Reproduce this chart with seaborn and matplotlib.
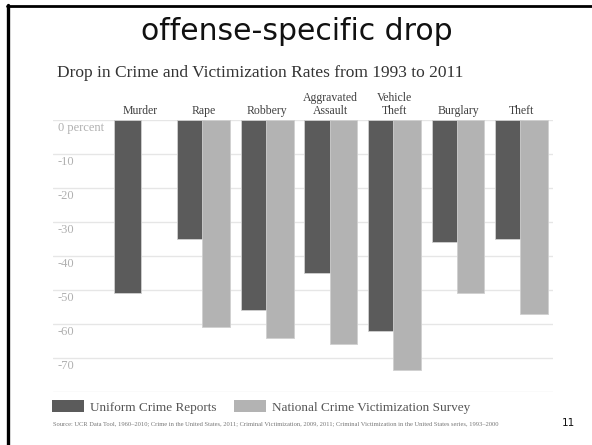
import matplotlib
matplotlib.use("Agg")
import matplotlib.pyplot as plt
import seaborn as sns
import pandas as pd
import numpy as np
from matplotlib.patches import Patch
from matplotlib.lines import Line2D

categories = ["Murder", "Rape", "Robbery", "Aggravated\nAssault", "Vehicle\nTheft", "Burglary", "Theft"]
ucr = [-51, -35, -56, -45, -62, -36, -35]
ncvs = [np.nan, -61, -64, -66, -73.5, -51, -57]
series = ["Uniform Crime Reports", "National Crime Victimization Survey"]
ytick_vals = [0, -10, -20, -30, -40, -50, -60, -70]
ytick_labels = ["0 percent", "-10", "-20", "-30", "-40", "-50", "-60", "-70"]

df = pd.DataFrame({
    "category": categories * 2,
    "series": [series[0]] * len(categories) + [series[1]] * len(categories),
    "value": ucr + ncvs,
})

W, H = 592, 445
fig = plt.figure(figsize=(W / 100, H / 100), dpi=100)
sns.set_style("white")
plt.rcParams["font.family"] = ["Liberation Serif", "DejaVu Serif"]

ax_left, ax_right, ax_top, ax_bot = 53, 553, 120, 392
ax = fig.add_axes([ax_left / W, 1 - ax_bot / H, (ax_right - ax_left) / W, (ax_bot - ax_top) / H])

dark, light = "#5b5b5b", "#b3b3b3"
sns.barplot(data=df, x="category", y="value", hue="series", order=categories,
            hue_order=series, palette=[dark, light], width=0.79, ax=ax,
            legend=False, linewidth=0.6, edgecolor="#d0d0d0", saturation=1)

# widen bars slightly so pairs touch/overlap as in the reference
for p in ax.patches:
    w = p.get_width()
    p.set_x(p.get_x() - 0.02)
    p.set_width(w + 0.04)

ax.set_xlim(-1.368, 6.494)
ax.set_ylim(-80, 0)
ax.set_yticks(list(range(0, -81, -10)))
ax.set_yticklabels([])
ax.tick_params(axis="y", length=0)
ax.yaxis.grid(True, color="#e6e6e6", linewidth=1.0)
ax.set_axisbelow(True)
for s in ax.spines.values():
    s.set_visible(False)
ax.set_xlabel("")
ax.set_ylabel("")

ax.xaxis.tick_top()
ax.tick_params(axis="x", length=0, pad=2.5, labelsize=8.5, labelcolor="#404040")
ax.set_xticks(range(len(categories)))
ax.set_xticklabels(categories, linespacing=1.05)

for v, lab in zip(ytick_vals, ytick_labels):
    ax.text(0.01, v - 0.7, lab, transform=ax.get_yaxis_transform(), ha="left", va="top",
            fontsize=9, color="#b0b0b0")

# Slide title and subtitle
fig.text(297 / W, 1 - 31 / H, "offense-specific drop", ha="center", va="center",
         fontsize=21.5, family="DejaVu Sans", color="#111111")
fig.text(57 / W, 1 - 73 / H, "Drop in Crime and Victimization Rates from 1993 to 2011",
         ha="left", va="center", fontsize=12.5, color="#333333")

# Legend
handles = [Patch(facecolor=dark, edgecolor="none"), Patch(facecolor=light, edgecolor="none")]
fig.legend(handles, series, loc="center left", bbox_to_anchor=(52 / W, 1 - 407 / H),
           ncol=2, frameon=False, fontsize=9.5, labelcolor="#555555",
           handlelength=2.4, handleheight=1.0, handletextpad=0.5, columnspacing=1.3,
           borderaxespad=0, borderpad=0)

fig.text(53 / W, 1 - 424 / H,
         "Source: UCR Data Tool, 1960\u20132010; Crime in the United States, 2011; Criminal Victimization, 2009, 2011; Criminal Victimization in the United States series, 1993\u20132000",
         ha="left", va="center", fontsize=4.7, color="#777777")
fig.text(568 / W, 1 - 423 / H, "11", ha="center", va="center", fontsize=7.5,
         family="DejaVu Sans", color="#111111")

# slide border lines
fig.add_artist(Line2D([8 / W, 8 / W], [0, 1 - 5 / H], transform=fig.transFigure, color="black", linewidth=2.4))
fig.add_artist(Line2D([7 / W, 1], [1 - 6 / H, 1 - 6 / H], transform=fig.transFigure, color="black", linewidth=2.0))

fig.savefig("out.png", dpi=100)
